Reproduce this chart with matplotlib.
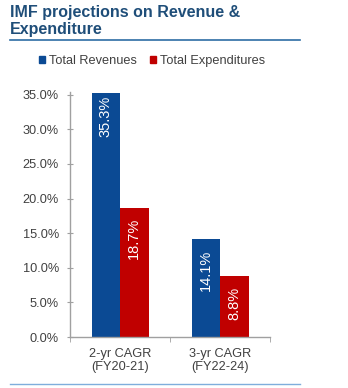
import matplotlib
matplotlib.use("Agg")
import matplotlib.pyplot as plt
from matplotlib.lines import Line2D
from matplotlib.patches import Patch
import numpy as np

plt.rcParams['font.family'] = ['Liberation Sans', 'DejaVu Sans']

categories = ["2-yr CAGR\n(FY20-21)", "3-yr CAGR\n(FY22-24)"]
series_names = ["Total Revenues", "Total Expenditures"]
revenues = [35.3, 14.1]
expenditures = [18.7, 8.8]
yticks = [0, 5, 10, 15, 20, 25, 30, 35]

BLUE = "#0B4A94"
RED = "#C00000"
NAVY = "#1F4E79"
TXT = "#404040"

W, H = 348, 388
fig = plt.figure(figsize=(W/100, H/100), dpi=100)

ax = fig.add_axes([70/W, 1-337/H, 200/W, 245/H])
x = np.arange(len(categories))
bw = 0.285
b1 = ax.bar(x - bw/2, revenues, bw, color=BLUE, label=series_names[0])
b2 = ax.bar(x + bw/2, expenditures, bw, color=RED, label=series_names[1])

ax.set_xlim(-0.5, len(categories) - 0.5)
ax.set_ylim(0, 35.4)
ax.set_yticks(yticks)
ax.set_yticklabels([f"{v:.1f}%" for v in yticks], fontsize=9.2, color=TXT)
ax.set_xticks(x)
ax.set_xticklabels(categories, fontsize=9.2, color=TXT, linespacing=1.05)
ax.tick_params(axis='x', length=0, pad=8)
ax.set_xticks(np.arange(-0.5, len(categories)), minor=True)
ax.tick_params(axis='x', which='minor', length=3.5, color='#A0A0A0', direction='out')
ax.tick_params(axis='y', length=4, color='#A0A0A0', direction='inout', pad=6)
for s in ['top', 'right']:
    ax.spines[s].set_visible(False)
for s in ['left', 'bottom']:
    ax.spines[s].set_color('#A0A0A0')
    ax.spines[s].set_linewidth(1.0)

for bars, vals in ((b1, revenues), (b2, expenditures)):
    for rect, v in zip(bars, vals):
        off = -2 if v > 34 else -7.5
        ax.annotate(f"{v:.1f}%", (rect.get_x() + rect.get_width()/2, v),
                    xytext=(0, off), textcoords='offset points',
                    ha='center', va='top', rotation=90, color='white', fontsize=10.5)

# Title
fig.text(10/W, 1-17/H, "IMF projections on Revenue &", fontsize=11.5, fontweight='bold',
         color=NAVY, ha='left', va='baseline')
fig.text(10/W, 1-34/H, "Expenditure", fontsize=11.5, fontweight='bold',
         color=NAVY, ha='left', va='baseline')
fig.add_artist(Line2D([10/W, 300/W], [1-39.5/H, 1-39.5/H], color='#2E6DA4', lw=1.2))
fig.add_artist(Line2D([10/W, 300/W], [1-383.5/H, 1-383.5/H], color='#7FAEDC', lw=1.0))

handles = [Patch(color=BLUE), Patch(color=RED)]
fig.legend(handles, series_names, loc='center', bbox_to_anchor=(152/W, 1-61/H),
           ncol=2, frameon=False, fontsize=9.2, handlelength=0.5, handleheight=0.5,
           handletextpad=0.3, columnspacing=1.0, labelcolor=TXT)

fig.savefig("out.png", dpi=100)
